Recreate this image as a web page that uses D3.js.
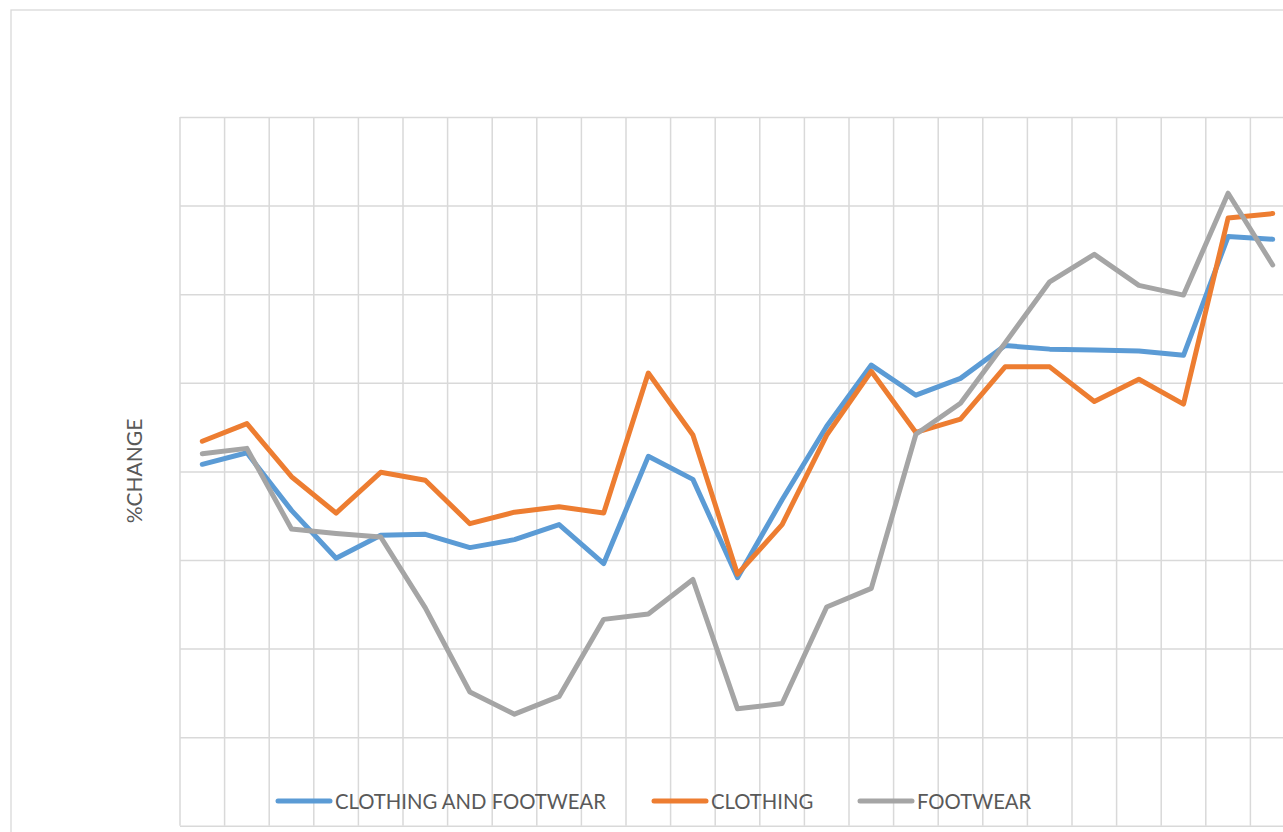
<!DOCTYPE html>
<html>
<head>
<meta charset="utf-8">
<script src="https://cdn.jsdelivr.net/npm/d3@7/dist/d3.min.js"></script>
<style>
  html, body { margin: 0; padding: 0; background: #fff; overflow: hidden; }
  svg { display: block; }
</style>
</head>
<body>
<svg id="chart" width="1283" height="832"></svg>
<script>
// Periods (category labels are cut off in the reference; 25 periods)
const periods = d3.range(1, 26).map(String);
const seriesNames = ["CLOTHING AND FOOTWEAR", "CLOTHING", "FOOTWEAR"];
const clothingAndFootwear = [0.08, 0.21, -0.44, -0.98, -0.72, -0.71, -0.86, -0.77, -0.60, -1.04, 0.17, -0.09, -1.20, -0.32, 0.51, 1.20, 0.86, 1.05, 1.42, 1.38, 1.37, 1.36, 1.31, 2.65, 2.62];
const clothing = [0.34, 0.54, -0.06, -0.47, -0.01, -0.10, -0.59, -0.46, -0.40, -0.47, 1.11, 0.41, -1.16, -0.60, 0.41, 1.13, 0.44, 0.59, 1.18, 1.18, 0.79, 1.04, 0.76, 2.86, 2.91];
const footwear = [0.20, 0.26, -0.65, -0.70, -0.74, -1.54, -2.49, -2.74, -2.54, -1.67, -1.61, -1.22, -2.68, -2.62, -1.53, -1.32, 0.42, 0.77, 1.45, 2.14, 2.45, 2.10, 1.99, 3.14, 2.33];
const yTicks = [-4, -3, -2, -1, 0, 1, 2, 3, 4];
const colors = ["#5b9bd5", "#ed7d31", "#a5a5a5"];

const series = [clothingAndFootwear, clothing, footwear];

const svg = d3.select("#chart");
const margin = { left: 180, top: 117 };
const plotW = 1115, plotH = 708.8;

// outer chart border
svg.append("rect")
  .attr("x", 11).attr("y", 10)
  .attr("width", 1400).attr("height", 900)
  .attr("fill", "#fff").attr("stroke", "#d9d9d9").attr("stroke-width", 1.3);

const g = svg.append("g").attr("transform", `translate(${margin.left},${margin.top})`);

const x = d3.scaleBand().domain(periods).range([0, plotW]).padding(0);
const y = d3.scaleLinear().domain([-4, 4]).range([plotH, 0]);

// vertical gridlines (category boundaries)
const xBounds = d3.range(0, periods.length + 1).map(i => i * x.step());
g.append("g").selectAll("line").data(xBounds).join("line")
  .attr("x1", d => d).attr("x2", d => d)
  .attr("y1", 0).attr("y2", plotH)
  .attr("stroke", "#d9d9d9").attr("stroke-width", 1.5);

// horizontal gridlines
const yAxis = d3.axisLeft(y).tickValues(yTicks).tickSize(-plotW).tickFormat("");
const ya = g.append("g").call(yAxis);
ya.select(".domain").remove();
ya.selectAll(".tick line").attr("stroke", "#d9d9d9").attr("stroke-width", 1.5);

// lines
const line = d3.line()
  .x((d, i) => x(periods[i]) + x.bandwidth() / 2)
  .y(d => y(d));

g.append("g").selectAll("path").data(series).join("path")
  .attr("d", d => line(d))
  .attr("fill", "none")
  .attr("stroke", (d, i) => colors[i])
  .attr("stroke-width", 5)
  .attr("stroke-linejoin", "round")
  .attr("stroke-linecap", "round");

// y-axis title
svg.append("text")
  .attr("transform", "translate(142,471) rotate(-90)")
  .attr("text-anchor", "middle")
  .attr("font-family", "Lato, 'Open Sans', sans-serif")
  .attr("font-size", 21)
  .attr("fill", "#595959")
  .text("%CHANGE");

// legend
const legendX = [278, 654, 860];
const leg = svg.append("g").attr("font-family", "Lato, 'Open Sans', sans-serif")
  .attr("font-size", 20.3).attr("fill", "#595959");
seriesNames.forEach((name, i) => {
  const lg = leg.append("g").attr("transform", `translate(${legendX[i]},801)`);
  lg.append("line").attr("x1", 0).attr("x2", 52).attr("y1", 0).attr("y2", 0)
    .attr("stroke", colors[i]).attr("stroke-width", 5).attr("stroke-linecap", "round");
  lg.append("text").attr("x", 57).attr("y", 8).text(name);
});
</script>
</body>
</html>
